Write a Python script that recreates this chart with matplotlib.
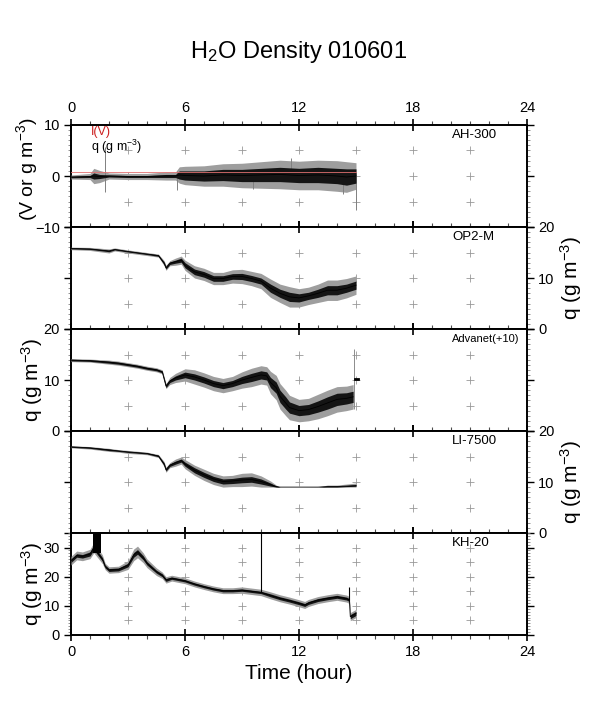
import numpy as np
import matplotlib
matplotlib.use('Agg')
import matplotlib.pyplot as plt
from matplotlib.ticker import MultipleLocator, FixedLocator

plt.rcParams['font.family'] = ['Liberation Sans', 'DejaVu Sans']
plt.rcParams['mathtext.fontset'] = 'custom'
plt.rcParams['mathtext.rm'] = 'Liberation Sans'
plt.rcParams['mathtext.default'] = 'regular'

# ---- data (hours, g m-3 or V) ----
# AH-300
ah_t = [0, 1, 1.2, 1.5, 2, 3, 4, 5, 5.5, 5.7, 6, 7, 8, 9, 10, 11, 12, 13, 14, 14.5, 15]
ah_mid = [-0.2, -0.1, 0.0, -0.1, 0.0, -0.1, -0.1, 0.0, 0.0, 0.2, 0.1, 0.0, 0.2, 0.1, 0.2, 0.3, 0.1, 0.2, 0.0, -0.2, 0.0]
ah_in = [0.15, 0.2, 0.6, 0.4, 0.2, 0.2, 0.2, 0.3, 0.3, 0.8, 0.9, 1.0, 1.1, 1.2, 1.3, 1.4, 1.4, 1.5, 1.5, 1.6, 1.4]
ah_out = [0.4, 0.6, 1.5, 1.2, 0.6, 0.6, 0.6, 0.8, 0.8, 1.6, 1.8, 2.0, 2.2, 2.4, 2.6, 2.8, 2.8, 2.9, 3.0, 3.0, 2.6]
ah_spk_t = [1.8, 5.6, 9.6, 11.6, 14.3, 15.0]
ah_spk_lo = [-3.1, -2.8, -2.6, -1.0, -3.5, -6.7]
ah_spk_hi = [5.7, 1.0, 1.0, 3.6, 1.0, 0.5]
iv_t = [0, 15]
iv_v = [0.7, 0.7]

# OP2-M
op_t = [0, 1, 2, 2.3, 3, 4, 4.6, 4.9, 5.0, 5.2, 5.5, 5.8, 6, 6.5, 7, 7.5, 8, 8.5, 9, 9.5,
        10, 10.5, 11, 11.5, 12, 12.5, 13, 13.5, 14, 14.5, 15]
op_mid = [15.8, 15.7, 15.3, 15.6, 15.2, 14.7, 14.4, 12.9, 12.0, 12.9, 13.2, 13.5, 12.5, 11.2, 10.7,
          9.9, 9.9, 10.3, 10.3, 9.9, 9.4, 8.0, 7.0, 6.3, 6.1, 6.5, 7.0, 7.6, 7.6, 8.0, 8.6]
op_in = [0.1, 0.1, 0.15, 0.1, 0.1, 0.1, 0.15, 0.25, 0.25, 0.25, 0.3, 0.4, 0.5, 0.55, 0.55,
         0.55, 0.55, 0.55, 0.6, 0.6, 0.6, 0.8, 0.8, 0.9, 0.8, 0.7, 0.8, 0.9, 0.9, 0.8, 0.8]
op_out = [0.25, 0.3, 0.4, 0.3, 0.3, 0.3, 0.3, 0.5, 0.5, 0.5, 0.7, 0.8, 1.0, 1.2, 1.2,
          1.2, 1.2, 1.3, 1.4, 1.4, 1.5, 1.8, 1.8, 2.0, 1.8, 1.7, 1.8, 2.0, 2.0, 1.9, 1.8]

# Advanet (+10)
ad_t = [0, 1, 2, 2.5, 3, 3.5, 4, 4.5, 4.8, 5.0, 5.2, 5.5, 6, 6.5, 7, 7.5, 8, 8.5, 9, 9.5,
        10, 10.3, 10.5, 10.8, 11, 11.3, 11.5, 12, 12.5, 13, 13.5, 14, 14.5, 14.85]
ad_mid = [13.9, 13.8, 13.5, 13.3, 13.0, 12.7, 12.3, 12.0, 11.6, 8.8, 9.8, 10.4, 11.0, 10.6, 10.0,
          9.3, 8.9, 9.3, 10.0, 10.5, 11.0, 10.8, 9.5, 8.5, 6.8, 5.5, 4.6, 4.0, 4.2, 4.8,
          5.5, 6.2, 6.4, 6.7]
ad_in = [0.15, 0.15, 0.2, 0.2, 0.2, 0.2, 0.2, 0.2, 0.2, 0.3, 0.3, 0.4, 0.55, 0.6, 0.6,
         0.6, 0.6, 0.6, 0.7, 0.8, 0.8, 0.8, 1.0, 1.1, 1.2, 1.2, 1.1, 1.0, 1.0, 1.1,
         1.2, 1.2, 1.1, 1.1]
ad_out = [0.3, 0.3, 0.4, 0.4, 0.4, 0.4, 0.4, 0.4, 0.4, 0.5, 0.7, 0.9, 1.2, 1.4, 1.4,
          1.4, 1.4, 1.4, 1.6, 1.8, 1.8, 1.8, 2.2, 2.4, 2.5, 2.5, 2.4, 2.2, 2.2, 2.4,
          2.5, 2.5, 2.4, 2.4]
ad_spk_t = [14.87]
ad_spk_lo = [4.4]
ad_spk_hi = [16.1]
ad_tail_t = [14.95, 15.1]
ad_tail_v = [10.1, 10.1]

# LI-7500
li_t = [0, 1, 2, 2.5, 3, 4, 4.6, 4.9, 5.0, 5.2, 5.5, 5.8, 6, 6.5, 7, 7.5, 8, 8.5, 9, 9.5,
        10, 10.5, 10.8, 11, 12, 13, 13.5, 14, 14.5, 15]
li_mid = [16.9, 16.7, 16.3, 16.1, 15.9, 15.6, 15.1, 13.5, 12.4, 13.3, 13.8, 14.2, 13.5, 12.3, 11.4,
          10.6, 10.1, 10.2, 10.4, 10.5, 10.1, 9.5, 9.1, 9.0, 9.0, 9.0, 9.1, 9.1, 9.2, 9.3]
li_in = [0.1, 0.1, 0.15, 0.1, 0.1, 0.1, 0.15, 0.25, 0.25, 0.25, 0.3, 0.3, 0.4, 0.5, 0.5,
         0.5, 0.5, 0.5, 0.55, 0.55, 0.5, 0.3, 0.15, 0.0, 0.0, 0.0, 0.1, 0.1, 0.1, 0.15]
li_out = [0.2, 0.25, 0.3, 0.25, 0.3, 0.25, 0.3, 0.5, 0.5, 0.5, 0.7, 0.7, 0.9, 1.0, 1.1,
          1.1, 1.1, 1.1, 1.3, 1.3, 1.1, 0.7, 0.3, 0.0, 0.0, 0.05, 0.3, 0.3, 0.4, 0.5]
li_floor = 9.0

# KH-20
kh_t = [0, 0.3, 0.6, 1.0, 1.2, 1.65, 1.8, 2.0, 2.5, 3.0, 3.3, 3.5, 3.8, 4.0, 4.5, 4.8, 5.0, 5.3,
        6.0, 6.5, 7.0, 7.5, 8.0, 8.5, 9.0, 9.5, 10.0, 10.5, 11.0, 11.5, 12.0, 12.3, 12.5,
        13.0, 13.5, 14.0, 14.5, 14.65, 14.7, 15.0]
kh_mid = [25.5, 27.3, 27.0, 27.8, 30.0, 26.0, 23.5, 22.3, 22.5, 24.0, 27.5, 28.5, 26.5, 24.6,
          21.7, 20.5, 18.9, 19.5, 18.6, 17.5, 16.6, 15.8, 15.2, 15.2, 15.4, 15.0, 14.6, 13.6,
          12.6, 11.8, 10.9, 10.3, 11.0, 12.0, 12.6, 13.1, 12.5, 12.0, 6.3, 7.4]
kh_in = [0.6, 0.6, 0.6, 0.7, 0.8, 0.6, 0.5, 0.5, 0.5, 0.6, 0.8, 0.8, 0.7, 0.6, 0.5, 0.5,
         0.5, 0.4, 0.4, 0.4, 0.4, 0.4, 0.4, 0.4, 0.4, 0.4, 0.4, 0.5, 0.5, 0.5, 0.5, 0.5,
         0.5, 0.5, 0.5, 0.5, 0.5, 0.5, 0.7, 0.7]
kh_out = [1.5, 1.5, 1.5, 1.6, 1.8, 1.5, 1.1, 1.1, 1.1, 1.5, 2.0, 2.0, 1.7, 1.5, 1.3, 1.1,
          1.1, 1.0, 1.0, 1.0, 1.0, 1.0, 1.0, 1.0, 1.1, 1.1, 1.1, 1.2, 1.2, 1.2, 1.2, 1.2,
          1.2, 1.2, 1.2, 1.2, 1.2, 1.2, 1.4, 1.4]
kh_sat_t = [1.15, 1.6]
kh_sat_lo = [28.0, 28.0]
kh_sat_hi = [36.0, 36.0]
kh_spk_t = [10.0, 14.62]
kh_spk_lo = [14.6, 12.0]
kh_spk_hi = [35.0, 16.6]

names = ['AH-300', 'OP2-M', 'Advanet(+10)', 'LI-7500', 'KH-20']
ylims = [(-10, 10), (0, 20), (0, 20), (0, 20), (0, 35)]
ylabels_at = [[-10, 0, 10], [0, 10, 20], [0, 10, 20], [0, 10, 20], [0, 10, 20, 30]]
cross_y = [[-5, 0, 5], [5, 10, 15], [5, 10, 15], [5, 10, 15], [5, 10, 15, 20, 25, 30]]
cross_x = [3, 6, 9, 12, 15, 18, 21]
label_side = ['left', 'right', 'left', 'right', 'left']
ylabel_txt = ['(V or g m$^{-3}$)', 'q (g m$^{-3}$)', 'q (g m$^{-3}$)',
              'q (g m$^{-3}$)', 'q (g m$^{-3}$)']
ylabel_x = [-0.068, 1.068, -0.058, 1.068, -0.058]
ylabel_y = [0.57, 0.5, 0.5, 0.5, 0.5]
ylabel_fs = [14, 15, 15, 15, 15]


def draw_band(ax, t, mid, inner, outer, floor=None):
    t = np.asarray(t, float)
    mid = np.asarray(mid, float)
    lo_o, hi_o = mid - np.asarray(outer), mid + np.asarray(outer)
    lo_i, hi_i = mid - np.asarray(inner), mid + np.asarray(inner)
    if floor is not None:
        lo_o = np.maximum(lo_o, floor)
        lo_i = np.maximum(lo_i, floor)
    ax.fill_between(t, lo_o, hi_o, color='0.62', lw=0, zorder=3)
    ax.fill_between(t, lo_i, hi_i, color='0.08', lw=0, zorder=4)
    ax.plot(t, mid, color='black', lw=0.6, zorder=5)


def style_axis(ax, i):
    ax.set_xlim(0, 24)
    ax.set_ylim(*ylims[i])
    for s in ax.spines.values():
        s.set_linewidth(1.4)
    ax.xaxis.set_major_locator(MultipleLocator(6))
    ax.xaxis.set_minor_locator(MultipleLocator(1))
    ax.yaxis.set_major_locator(FixedLocator(ylabels_at[i]))
    ax.yaxis.set_minor_locator(MultipleLocator(1))
    ax.tick_params(axis='x', which='major', direction='inout', length=8, width=1.2,
                   top=True, bottom=True, labelbottom=(i == 4), labeltop=(i == 0),
                   labelsize=10.5, pad=3)
    ax.tick_params(axis='x', which='minor', direction='out', length=3, width=0.8,
                   top=True, bottom=True, color='0.3')
    ax.tick_params(axis='y', which='major', direction='out', length=5, width=1.0,
                   left=True, right=True, labelsize=10.5, pad=3,
                   labelleft=(label_side[i] == 'left'),
                   labelright=(label_side[i] == 'right'))
    ax.tick_params(axis='y', which='minor', direction='out', length=2.5, width=0.6,
                   left=True, right=True, color='0.5')
    gx, gy = np.meshgrid(cross_x, cross_y[i])
    ax.plot(gx.ravel(), gy.ravel(), '+', ms=6, mew=0.6, color='0.6', zorder=1)
    ax.text(0.836, 0.90, names[i], transform=ax.transAxes, ha='left', va='center',
            fontsize=8 if i == 2 else 9.5)
    if label_side[i] == 'left':
        ax.set_ylabel(ylabel_txt[i], fontsize=ylabel_fs[i])
    else:
        ax.yaxis.set_label_position('right')
        ax.set_ylabel(ylabel_txt[i], fontsize=ylabel_fs[i], rotation=90)
    ax.yaxis.set_label_coords(ylabel_x[i], ylabel_y[i])


fig = plt.figure(figsize=(5.98, 7.08), dpi=100)
left, width, height = 71 / 598, 456 / 598, 102 / 708
bottoms = [1 - 227 / 708, 1 - 329 / 708, 1 - 431 / 708, 1 - 533 / 708, 1 - 635 / 708]
axes = [fig.add_axes([left, b, width, height]) for b in bottoms]

for i, ax in enumerate(axes):
    style_axis(ax, i)

# AH-300
ax = axes[0]
draw_band(ax, ah_t, ah_mid, ah_in, ah_out)
ax.vlines(ah_spk_t, ah_spk_lo, ah_spk_hi, color='0.5', lw=0.7, zorder=3)
ax.plot(iv_t, iv_v, color='#e07070', lw=0.6, zorder=6)
ax.text(0.044, 0.93, 'I(V)', color='#cc2020', transform=ax.transAxes, fontsize=9,
        ha='left', va='center')
ax.text(0.044, 0.79, 'q (g m$^{-3}$)', color='black', transform=ax.transAxes, fontsize=9,
        ha='left', va='center')

# OP2-M
draw_band(axes[1], op_t, op_mid, op_in, op_out)

# Advanet
ax = axes[2]
draw_band(ax, ad_t, ad_mid, ad_in, ad_out)
ax.vlines(ad_spk_t, ad_spk_lo, ad_spk_hi, color='0.55', lw=0.7, zorder=3)
ax.plot(ad_tail_t, ad_tail_v, color='black', lw=2.0, zorder=5)

# LI-7500
draw_band(axes[3], li_t, li_mid, li_in, li_out, floor=li_floor)

# KH-20
ax = axes[4]
draw_band(ax, kh_t, kh_mid, kh_in, kh_out)
ax.fill_between(kh_sat_t, kh_sat_lo, kh_sat_hi, color='black', lw=0, zorder=4)
ax.vlines(kh_spk_t, kh_spk_lo, kh_spk_hi, color='black', lw=0.8, zorder=5)
ax.set_xlabel('Time (hour)', fontsize=15, labelpad=4)

fig.text(0.5, 0.927, 'H$_2$O Density 010601', ha='center', va='center', fontsize=17)

fig.savefig('out.png', dpi=100)
